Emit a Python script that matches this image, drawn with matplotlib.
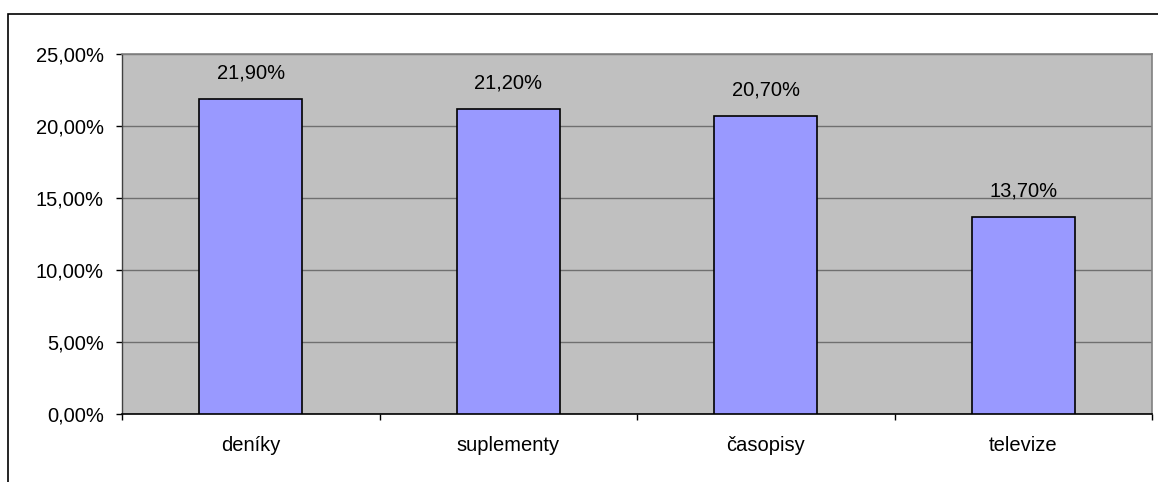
import numpy as np
import matplotlib.pyplot as plt
from matplotlib.patches import Rectangle

categories = ['deníky', 'suplementy', 'časopisy', 'televize']
values = [21.9, 21.2, 20.7, 13.7]
yticks = [0, 5, 10, 15, 20, 25]


def pct(v):
    return ('%.2f' % v).replace('.', ',') + '%'


def main():
    plt.rcParams['font.family'] = ['Liberation Sans', 'DejaVu Sans']
    fs = 14.5

    fig = plt.figure(figsize=(11.58, 4.82), dpi=100)
    ax = fig.add_axes([122 / 1158, 68 / 482, 1030 / 1158, 360 / 482])

    # outer chart border (runs past right and bottom edge like the source)
    fig.patches.append(Rectangle((8 / 1158, -0.1), 1.2, (482 - 14) / 482 + 0.1,
                                 transform=fig.transFigure, fill=False,
                                 edgecolor='black', linewidth=1.2))

    ax.set_facecolor('#C0C0C0')
    x = np.arange(len(categories))
    ax.bar(x, values, width=0.4, color='#9999FF', edgecolor='black',
           linewidth=1.2, zorder=3)

    for xi, v in zip(x, values):
        ax.annotate(pct(v), (xi, v), xytext=(0, 11.5), textcoords='offset points',
                    ha='center', va='bottom', fontsize=fs, color='black')

    ax.set_xlim(-0.5, len(categories) - 0.5)
    ax.set_ylim(0, 25)
    ax.set_yticks(yticks)
    ax.set_yticklabels([pct(t) for t in yticks], fontsize=fs)
    ax.set_xticks(x)
    ax.set_xticklabels(categories, fontsize=fs)
    ax.set_xticks(np.arange(-0.5, len(categories)), minor=True)

    ax.tick_params(axis='x', which='major', length=0, pad=16)
    ax.tick_params(axis='x', which='minor', length=4, width=1, color='black')
    ax.tick_params(axis='y', length=4.5, width=1, color='black', pad=8.5)

    ax.yaxis.grid(True, color='#6f6f6f', linewidth=1, zorder=1)
    ax.set_axisbelow(True)

    for s in ['top', 'right']:
        ax.spines[s].set_color('#808080')
        ax.spines[s].set_linewidth(1.2)
    ax.spines['left'].set_color('#404040')
    ax.spines['bottom'].set_color('black')
    ax.spines['left'].set_linewidth(1)
    ax.spines['bottom'].set_linewidth(1.2)

    fig.savefig('out.png', dpi=100)


if __name__ == '__main__':
    main()
